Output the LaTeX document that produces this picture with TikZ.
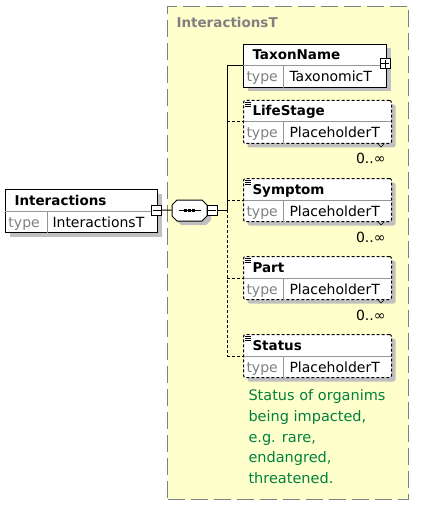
\documentclass[tikz,border=0pt]{standalone}
\usepackage{fontspec}
\setmainfont{DejaVu Sans}
\usetikzlibrary{shadows}
\definecolor{panelfill}{RGB}{255,255,204}
\definecolor{framegray}{RGB}{128,128,128}
\definecolor{shadegray}{RGB}{192,192,192}
\definecolor{rulegray}{RGB}{150,150,150}
\definecolor{docgreen}{RGB}{0,128,64}
\begin{document}
\begin{tikzpicture}[x=1pt,y=-1pt,line width=1pt,
  elbox/.style={draw,fill=white,anchor=north west,inner sep=0pt,
    minimum width=143pt,minimum height=43pt,
    drop shadow={shadow xshift=4pt,shadow yshift=-4pt,fill=shadegray,opacity=1}},
  optbox/.style={elbox,minimum width=148pt,rounded corners=2pt,dash pattern=on 3pt off 2pt},
  divider/.style={draw=rulegray,line width=1pt},
  elname/.style={anchor=base west,inner sep=0pt,font=\bfseries\fontsize{13.5}{16}\selectfont},
  typelbl/.style={anchor=base west,inner sep=0pt,text=framegray,font=\fontsize{14}{16}\selectfont},
  typeval/.style={anchor=base west,inner sep=0pt,font=\fontsize{14}{16}\selectfont},
  occurs/.style={anchor=base east,inner sep=0pt,font=\fontsize{14}{16}\selectfont},
  expander/.style={draw,fill=white,minimum size=10pt,inner sep=0pt},
  minus/.style={expander,path picture={\draw ([xshift=1pt]path picture bounding box.west) -- ([xshift=-1pt]path picture bounding box.east);}},
  plus/.style={expander,path picture={\draw ([xshift=1pt]path picture bounding box.west) -- ([xshift=-1pt]path picture bounding box.east);
    \draw ([yshift=-1pt]path picture bounding box.north) -- ([yshift=1pt]path picture bounding box.south);}},
  optline/.style={dash pattern=on 3pt off 2pt}]
\useasboundingbox (0,0) rectangle (427,505);
\node[draw=framegray,fill=panelfill,anchor=north west,inner sep=0pt,minimum width=241pt,minimum height=493pt,
  dash pattern=on 17pt off 6pt] (panel) at (167,6) {};
\node[elname,text=framegray] (panel-title) at ([xshift=9pt,yshift=-22pt]panel.north west) {InteractionsT};
\node[elbox,minimum width=152pt] (interactions) at (5,189) {};
\draw[divider] ([yshift=-22pt]interactions.north west) -- ([yshift=-22pt]interactions.north east);
\draw[divider] ([xshift=42pt,yshift=-22pt]interactions.north west) -- ([xshift=42pt]interactions.south west);
\node[elname] (interactions-name) at ([xshift=9pt,yshift=-16pt]interactions.north west) {Interactions};
\node[typelbl] (interactions-type) at ([xshift=3pt,yshift=6pt]interactions.south west) {type};
\node[typeval] (interactions-value) at ([xshift=47pt,yshift=6pt]interactions.south west) {InteractionsT};
\node[minus] (interactions-x) at (156.5,210) {};
\node[minimum width=35pt,minimum height=21pt,inner sep=0pt] (seq) at (189.5,210.5) {};
\begin{scope}[shift={(seq.center)}]
  \fill[shadegray] (-8.5,-6.5) -- (16.5,-6.5) -- (21.5,-1.5) -- (21.5,9.5) -- (16.5,14.5) -- (-8.5,14.5) -- (-13.5,9.5) -- (-13.5,-1.5) -- cycle;
  \draw[fill=white] (-12.5,-10.5) -- (12.5,-10.5) -- (17.5,-5.5) -- (17.5,5.5) -- (12.5,10.5) -- (-12.5,10.5) -- (-17.5,5.5) -- (-17.5,-5.5) -- cycle;
  \draw (-11,0) -- (11,0);
  \foreach \d in {-4,0,4} \fill (\d-1.5,-1.5) rectangle (\d+1.5,1.5);
\end{scope}
\node[minus] (seq-x) at (212,210) {};
\node[elbox] (taxonname) at (243,44) {};
\draw[divider] ([yshift=-22pt]taxonname.north west) -- ([yshift=-22pt]taxonname.north east);
\draw[divider] ([xshift=40pt,yshift=-22pt]taxonname.north west) -- ([xshift=40pt]taxonname.south west);
\node[elname] (taxonname-name) at ([xshift=9pt,yshift=-16pt]taxonname.north west) {TaxonName};
\node[typelbl] (taxonname-type) at ([xshift=3pt,yshift=6pt]taxonname.south west) {type};
\node[typeval] (taxonname-value) at ([xshift=46pt,yshift=6pt]taxonname.south west) {TaxonomicT};
\node[plus] (taxonname-x) at (385,64) {};
\foreach \nm/\lbl/\t in {lifestage/LifeStage/100,symptom/Symptom/178,part/Part/256,status/Status/334} {
  \node[optbox] (\nm) at (243,\t) {};
  \draw[divider] ([xshift=1pt,yshift=-22pt]\nm.north west) -- ([xshift=-1pt,yshift=-22pt]\nm.north east);
  \draw[divider] ([xshift=40pt,yshift=-22pt]\nm.north west) -- ([xshift=40pt]\nm.south west);
  \foreach \k in {2,4,6} \draw[line width=0.6pt] ([xshift=2pt,yshift=-\k pt]\nm.north west) -- ++(6,0);
  \node[elname] (\nm-name) at ([xshift=9pt,yshift=-16pt]\nm.north west) {\lbl};
  \node[typelbl] (\nm-type) at ([xshift=3pt,yshift=6pt]\nm.south west) {type};
  \node[typeval] (\nm-value) at ([xshift=46pt,yshift=6pt]\nm.south west) {PlaceholderT};
}
\foreach \nm in {lifestage,symptom,part} {
  \draw[line width=0.6pt] ([xshift=-14pt]\nm.south east) -- ++(3,3) -- ++(3,-3);
  \node[occurs] (\nm-occ) at ([xshift=-6pt,yshift=-20pt]\nm.south east) {0..∞};
}
\node[anchor=north west,align=left,inner sep=0pt,text=docgreen,font=\fontsize{14.5}{20.8}\selectfont]
  (status-doc) at ([xshift=5pt,yshift=-11pt]status.south west)
  {Status of organims\\being impacted,\\e.g. rare,\\endangred,\\threatened.};
\coordinate (bus) at (227,210);
\draw (interactions-x) -- (seq);
\draw (seq-x) -- (bus);
\draw (taxonname.west -| bus) -- (bus);
\draw[optline] (bus) -- (status.west -| bus);
\draw (taxonname.west -| bus) -- (taxonname.west);
\foreach \nm in {lifestage,symptom,part,status} \draw[optline] (\nm.west -| bus) -- (\nm.west);
\end{tikzpicture}
\end{document}
